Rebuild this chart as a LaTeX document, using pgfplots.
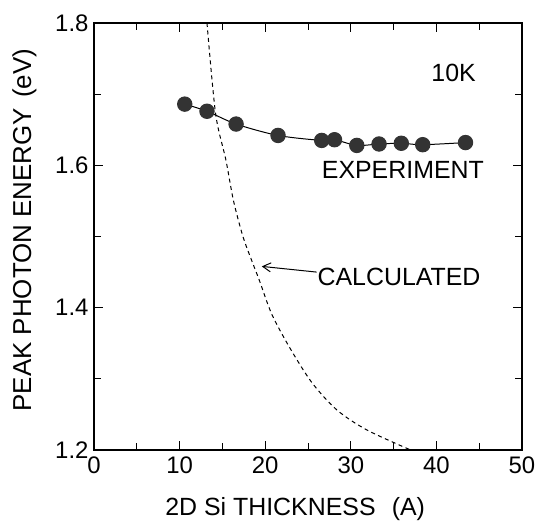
\documentclass[border=0pt]{standalone}
\usepackage{fontspec}
\setmainfont{Liberation Sans}
\usepackage{pgfplots}
\pgfplotsset{compat=1.18}
\usetikzlibrary{arrows.meta}
\begin{document}
\begin{tikzpicture}
\begin{axis}[
  scale only axis,
  width=428bp, height=427bp,
  xmin=0, xmax=50, ymin=1.2, ymax=1.8,
  xtick={0,10,...,50}, ytick={1.2,1.4,1.6,1.8},
  minor xtick={5,15,...,45}, minor ytick={1.3,1.5,1.7},
  tick align=inside,
  major tick length=9bp, minor tick length=7bp,
  every tick/.style={black, line width=0.9pt},
  axis line style={line width=1.1pt},
  /pgf/number format/assume math mode=true,
  yticklabel style={/pgf/number format/fixed, /pgf/number format/precision=1, /pgf/number format/fixed zerofill, xshift=-2bp},
  tick label style={font=\fontsize{24}{28}\selectfont},
  xticklabel style={anchor=base, yshift=-23bp},
  xlabel={2D Si THICKNESS\hspace{0.65em}(A)},
  ylabel={PEAK PHOTON ENERGY\hspace{0.4em}(eV)},
  xlabel style={font=\fontsize{25}{29}\selectfont, at={(axis description cs:0.47,0)}, anchor=base, yshift=-65bp},
  ylabel style={font=\fontsize{26}{30}\selectfont, at={(axis description cs:-0.147,0.515)}, anchor=base},
  clip=true,
]
\addplot[black, line width=1pt, smooth, tension=0.5, mark=*, mark size=7.2bp, mark options={fill=black!80, draw=black!80}]
coordinates {
(10.6,1.686) (13.2,1.676) (16.6,1.658) (21.5,1.642) (26.6,1.635) (28.1,1.636)
(30.7,1.628) (33.3,1.630) (35.9,1.631) (38.4,1.629) (43.4,1.632)
};
\addplot[black, line width=1pt, dash pattern=on 4bp off 3.5bp, smooth]
coordinates {
(13.2,1.80) (14.2,1.673) (15.4,1.608) (16.3,1.55) (17.4,1.50) (18.4,1.467)
(19.3,1.439) (20.8,1.390) (23.0,1.341) (25.5,1.294) (28.4,1.256) (31.9,1.228) (37.0,1.20)
};
\node[anchor=west, font=\fontsize{25}{29}\selectfont, inner sep=0pt] at (axis cs:39.4,1.73) {10K};
\node[anchor=west, font=\fontsize{25}{29}\selectfont, inner sep=0pt] at (axis cs:26.6,1.593) {EXPERIMENT};
\node[anchor=west, font=\fontsize{25}{29}\selectfont, inner sep=0pt] at (axis cs:26.1,1.443) {CALCULATED};
\draw[-{Straight Barb[length=8bp,width=9bp]}, line width=1pt] (axis cs:26.0,1.450) -- (axis cs:19.6,1.458);
\end{axis}
\pgfresetboundingbox
\useasboundingbox (-94bp,-77bp) rectangle (447bp,450bp);
\end{tikzpicture}
\end{document}
